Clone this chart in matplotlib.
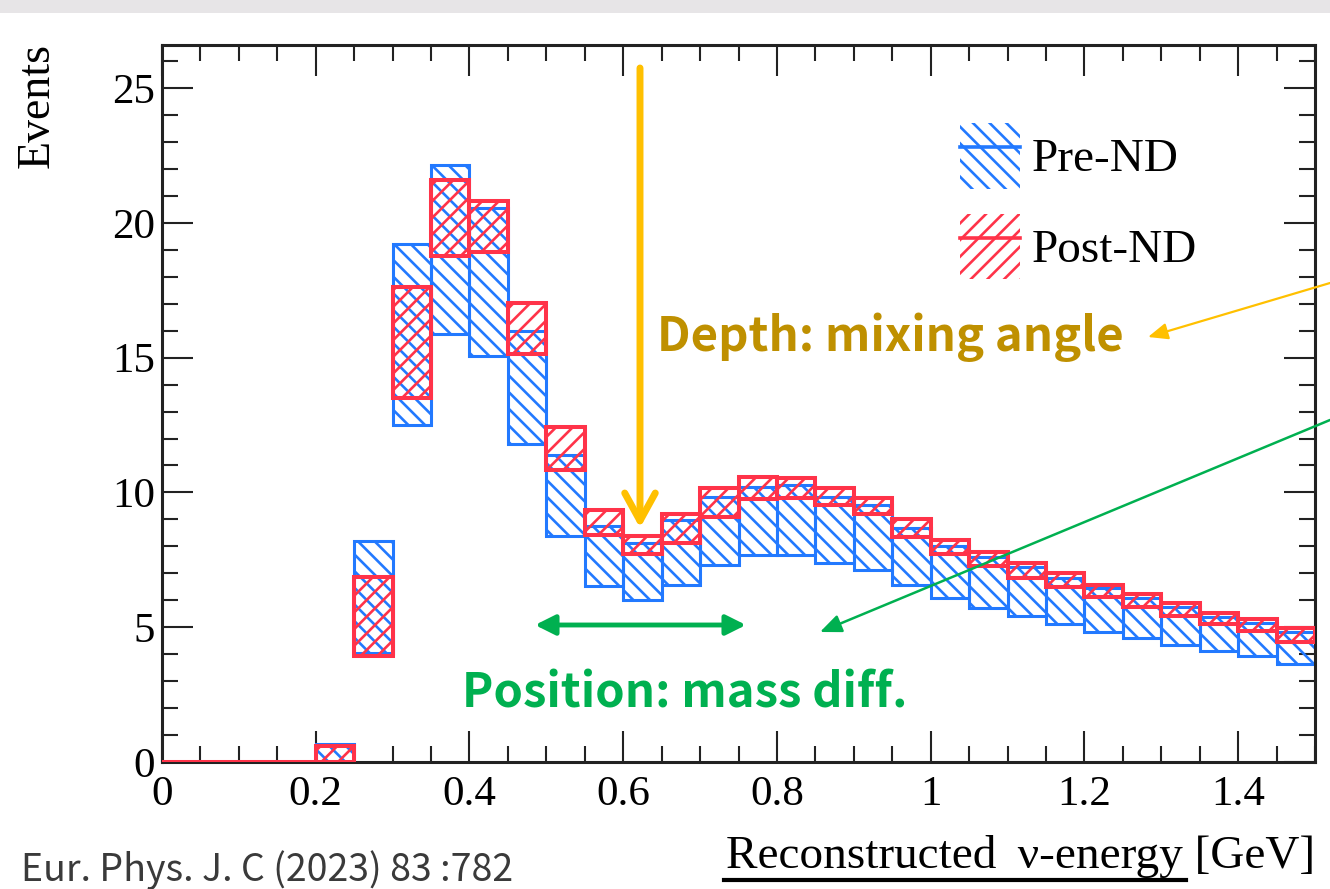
import numpy as np
import matplotlib
matplotlib.use("Agg")
import matplotlib.pyplot as plt
from matplotlib.patches import Patch, Rectangle
from matplotlib.lines import Line2D
from matplotlib.ticker import MultipleLocator, FuncFormatter

# ---- data: reconstructed neutrino energy spectrum, 0.05 GeV bins ----
bin_width = 0.05
bin_low = np.round(np.arange(0.0, 1.5, bin_width), 2)

pre_lo = [0, 0, 0, 0, 0, 4.03, 12.51, 15.88, 15.07, 11.80, 8.40, 6.53, 6.01, 6.57, 7.31,
          7.68, 7.68, 7.37, 7.12, 6.57, 6.07, 5.72, 5.42, 5.12, 4.83, 4.59, 4.34, 4.13, 3.93, 3.62]
pre_hi = [0, 0, 0, 0, 0.66, 8.20, 19.20, 22.15, 20.55, 16.00, 11.40, 8.75, 8.13, 8.98, 9.84,
          10.19, 10.27, 9.84, 9.53, 8.67, 8.00, 7.62, 7.22, 6.84, 6.44, 6.07, 5.74, 5.39, 5.14, 4.83]
post_lo = [0, 0, 0, 0, 0, 3.92, 13.50, 18.77, 18.93, 15.15, 10.82, 8.42, 7.72, 8.14, 9.08,
           9.74, 9.78, 9.53, 9.20, 8.36, 7.72, 7.27, 6.81, 6.48, 6.11, 5.76, 5.42, 5.12, 4.87, 4.46]
post_hi = [0, 0, 0, 0, 0.59, 6.86, 17.64, 21.61, 20.82, 17.02, 12.43, 9.35, 8.38, 9.19, 10.15,
           10.58, 10.52, 10.15, 9.80, 9.00, 8.25, 7.80, 7.37, 7.00, 6.57, 6.22, 5.89, 5.54, 5.29, 4.98]

labels = ["Pre-ND", "Post-ND"]

BLUE = "#2279ff"
RED = "#ff3349"
ORANGE = "#FFC000"
GOLD = "#BF9000"
GREEN = "#00B050"

W, H = 1330, 889
plt.rcParams["hatch.linewidth"] = 1.9
SERIF = ["Liberation Serif", "DejaVu Serif"]
SANS = ["Noto Sans CJK JP", "DejaVu Sans"]

fig = plt.figure(figsize=(W / 100, H / 100), dpi=100)
fig.patch.set_facecolor("white")


def px(x, y):
    """pixel position (from top-left) -> figure fraction"""
    return (x / W, 1 - y / H)


# light band along the top edge
fig.patches.append(Rectangle((0, 1 - 13 / H), 1, 13 / H, transform=fig.transFigure,
                             facecolor="#e7e5e7", edgecolor="none", zorder=0))

ax = fig.add_axes([162 / W, 1 - 762 / H, (1315 - 162) / W, (762 - 45) / H])

pre_h = np.array(pre_hi) - np.array(pre_lo)
post_h = np.array(post_hi) - np.array(post_lo)
ax.bar(bin_low, pre_h, bottom=pre_lo, width=bin_width, align="edge",
       facecolor="none", edgecolor=BLUE, hatch="\\\\", linewidth=2.2, zorder=2)
ax.bar(bin_low, post_h, bottom=post_lo, width=bin_width, align="edge",
       facecolor="none", edgecolor=RED, hatch="//", linewidth=2.9, zorder=3)

ax.set_xlim(0, 1.5)
ax.set_ylim(0, 26.6)

ax.xaxis.set_major_locator(MultipleLocator(0.2))
ax.xaxis.set_minor_locator(MultipleLocator(0.05))
ax.yaxis.set_major_locator(MultipleLocator(5))
ax.yaxis.set_minor_locator(MultipleLocator(1))
ax.xaxis.set_major_formatter(FuncFormatter(lambda v, p: f"{v:g}"))
ax.tick_params(which="both", direction="in", top=True, right=True, width=1.5, color="#222222")
ax.tick_params(which="major", length=22)
ax.tick_params(which="minor", length=11.5)
ax.tick_params(axis="x", which="major", pad=10, labelsize=31)
ax.tick_params(axis="y", which="major", pad=5, labelsize=31)
for lab in ax.get_xticklabels() + ax.get_yticklabels():
    lab.set_fontfamily(SERIF)
for s in ax.spines.values():
    s.set_linewidth(2.2)
    s.set_color("#222222")

# axis titles
fig.text(*px(1315, 857), "Reconstructed \u2009\u03bd-energy [GeV]", ha="right", va="center",
         fontsize=34, family=SERIF)
fig.add_artist(Line2D([724 / W, 1186 / W], [1 - 880 / H, 1 - 880 / H],
                      transform=fig.transFigure, color="black", lw=3))
fig.text(*px(37, 43), "Events", rotation=90, ha="center", va="top", fontsize=33, family=SERIF)

# legend
handles = [
    (Patch(facecolor="none", edgecolor=BLUE, hatch="\\\\", lw=0),
     Line2D([], [], color=BLUE, lw=2.6)),
    (Patch(facecolor="none", edgecolor=RED, hatch="//", lw=0),
     Line2D([], [], color=RED, lw=2.6)),
]
ax.legend(handles, labels, loc="upper left", bbox_to_anchor=px(960, 123),
          bbox_transform=fig.transFigure, frameon=False,
          prop={"family": SERIF, "size": 34}, handlelength=1.27, handleheight=1.76,
          labelspacing=0.53, handletextpad=0.25, borderpad=0, borderaxespad=0)

# annotations
fig.text(*px(657, 337), "Depth: mixing angle", ha="left", va="center", fontsize=34,
         fontweight="bold", color=GOLD, family=SANS)
fig.text(*px(462, 693), "Position: mass diff.", ha="left", va="center", fontsize=34,
         fontweight="bold", color=GREEN, family=SANS)
fig.text(*px(21, 870), "Eur. Phys. J. C (2023) 83 :782", ha="left", va="center",
         fontsize=27, color="#3a3a3a", family=SANS)

arrow_kw = dict(xycoords="figure fraction", textcoords="figure fraction")
ax.annotate("", xy=px(640, 528), xytext=px(640, 68), **arrow_kw,
            arrowprops=dict(arrowstyle="->,head_length=20,head_width=11", lw=5,
                            color=ORANGE, mutation_scale=1, shrinkA=0, shrinkB=0))
ax.annotate("", xy=px(1148, 337), xytext=px(1330, 283), **arrow_kw,
            arrowprops=dict(arrowstyle="-|>,head_length=12,head_width=5", lw=1.6,
                            color=ORANGE, mutation_scale=1, shrinkA=0, shrinkB=0))
ax.annotate("", xy=px(535, 625), xytext=px(746, 625), **arrow_kw,
            arrowprops=dict(arrowstyle="<|-|>,head_length=12,head_width=6", lw=3.5,
                            color=GREEN, mutation_scale=1, shrinkA=0, shrinkB=0))
ax.annotate("", xy=px(820, 632), xytext=px(1330, 420), **arrow_kw,
            arrowprops=dict(arrowstyle="-|>,head_length=13,head_width=5.5", lw=1.8,
                            color=GREEN, mutation_scale=1, shrinkA=0, shrinkB=0))

fig.savefig("out.png", dpi=100)
